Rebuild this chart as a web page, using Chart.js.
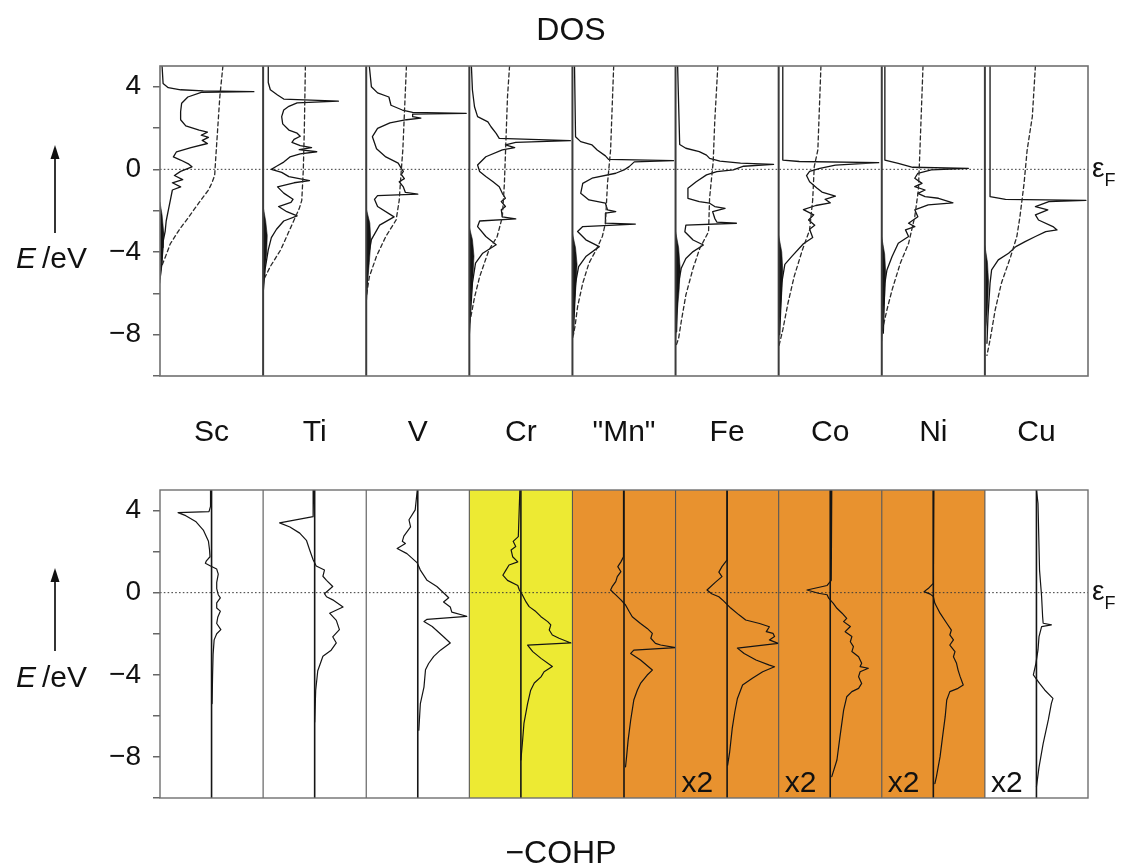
<!DOCTYPE html>
<html><head><meta charset="utf-8">
<script src="https://cdn.jsdelivr.net/npm/chart.js@4.4.1/dist/chart.umd.min.js"></script>
<style>
html,body{margin:0;padding:0;background:#fff;}
body{width:1125px;height:867px;position:relative;overflow:hidden;font-family:"Liberation Sans",Arial,Helvetica,sans-serif;color:#111;}
.t{position:absolute;line-height:1;white-space:nowrap;}
canvas{position:absolute;left:0;}
</style></head><body>
<canvas id="dos" width="1125" height="460" style="top:0"></canvas>
<canvas id="cohp" width="1125" height="407" style="top:460px"></canvas>
<svg style="position:absolute;left:0;top:0;pointer-events:none" width="1125" height="867">
  <line x1="55" y1="233" x2="55" y2="156" stroke="#111" stroke-width="1.7"/>
  <polygon points="55,145 50.5,159 59.5,159" fill="#111"/>
  <line x1="55" y1="651" x2="55" y2="579" stroke="#111" stroke-width="1.7"/>
  <polygon points="55,568 50.5,582 59.5,582" fill="#111"/>
</svg>
<div class="t" style="left:471px;width:200px;text-align:center;top:13px;font-size:32px">DOS</div>
<div class="t" style="left:461px;width:200px;text-align:center;top:836px;font-size:32px">&minus;COHP</div>
<div class="t" style="left:16px;top:243px;font-size:30px"><i>E</i>&thinsp;/eV</div>
<div class="t" style="left:16px;top:662px;font-size:30px"><i>E</i>&thinsp;/eV</div>
<div class="t" style="left:1092px;top:154px;font-size:28px">&epsilon;<span style="font-size:18px;position:relative;top:9px">F</span></div>
<div class="t" style="left:1092px;top:577px;font-size:28px">&epsilon;<span style="font-size:18px;position:relative;top:9px">F</span></div>
<script>
const FONT = '"Liberation Sans", Arial, Helvetica, sans-serif';

// ---------- labels ----------
const elementNames = ['Sc', 'Ti', 'V', 'Cr', '"Mn"', 'Fe', 'Co', 'Ni', 'Cu'];
const energyTickLabels = [4, 0, -4, -8];
const cohpScaleNotes = ['', '', '', '', '', 'x2', 'x2', 'x2', 'x2'];

// ---------- DOS (solid), integrated DOS (dashed), filled s-part; pairs [E/eV, value] ----------
const dosSc = [[5.0,0.02],[4.15,0.03],[3.95,0.08],[3.85,0.2],[3.8,0.42],[3.76,0.91],[3.72,0.4],[3.5,0.27],[3.2,0.21],[2.8,0.2],[2.4,0.2],[2.1,0.25],[1.9,0.38],[1.8,0.46],[1.65,0.4],[1.55,0.47],[1.4,0.41],[1.25,0.46],[1.05,0.3],[0.85,0.16],[0.6,0.13],[0.45,0.2],[0.25,0.28],[0.12,0.31],[-0.1,0.2],[-0.3,0.14],[-0.5,0.22],[-0.65,0.12],[-0.85,0.2],[-1.0,0.12],[-1.5,0.1],[-2.0,0.08],[-2.5,0.06],[-3.0,0.05],[-3.5,0.03],[-4.5,0.02],[-5.3,0.0]];
const idosSc = [[5.0,0.61],[3.5,0.58],[2.0,0.56],[0.5,0.54],[-0.3,0.53],[-0.7,0.5],[-1.0,0.47],[-1.6,0.38],[-2.3,0.28],[-2.9,0.19],[-3.6,0.1],[-4.2,0.055],[-4.7,0.015],[-5.0,0.0]];
const sdosSc = [[-1.6,0],[-2.2,0.02],[-3.0,0.035],[-3.8,0.03],[-4.6,0.015],[-5.5,0]];

const dosTi = [[5.0,0.05],[4.2,0.05],[3.85,0.07],[3.6,0.14],[3.4,0.2],[3.3,0.73],[3.22,0.33],[3.05,0.25],[2.87,0.2],[2.55,0.18],[2.2,0.19],[1.9,0.25],[1.75,0.33],[1.6,0.36],[1.45,0.3],[1.3,0.28],[1.15,0.36],[1.05,0.47],[0.95,0.35],[0.85,0.52],[0.75,0.36],[0.6,0.26],[0.35,0.2],[0.15,0.13],[0.0,0.08],[-0.15,0.18],[-0.35,0.25],[-0.55,0.45],[-0.65,0.3],[-0.85,0.14],[-1.15,0.2],[-1.45,0.29],[-1.6,0.27],[-1.8,0.15],[-2.05,0.23],[-2.25,0.33],[-2.5,0.2],[-2.9,0.13],[-3.3,0.08],[-3.9,0.05],[-4.8,0.02],[-6.0,0.0]];
const idosTi = [[5.0,0.41],[2.0,0.4],[0.0,0.39],[-1.5,0.375],[-1.9,0.35],[-2.9,0.26],[-3.9,0.17],[-4.7,0.07],[-5.2,0.02],[-5.4,0.0]];
const sdosTi = [[-1.8,0],[-2.5,0.025],[-3.2,0.04],[-4.0,0.035],[-5.0,0.015],[-5.8,0]];

const dosV = [[5.0,0.03],[4.0,0.05],[3.7,0.11],[3.5,0.22],[3.1,0.24],[2.87,0.35],[2.76,0.45],[2.71,0.97],[2.67,0.45],[2.55,0.45],[2.48,0.53],[2.4,0.39],[2.25,0.23],[1.98,0.11],[1.58,0.06],[1.0,0.1],[0.6,0.19],[0.3,0.31],[0.05,0.34],[-0.1,0.36],[-0.25,0.34],[-0.45,0.37],[-0.6,0.32],[-0.85,0.36],[-1.12,0.38],[-1.2,0.5],[-1.27,0.11],[-1.45,0.08],[-1.8,0.11],[-2.3,0.27],[-2.7,0.13],[-3.4,0.05],[-4.2,0.02],[-5.5,0.01],[-6.5,0.0]];
const idosV = [[5.0,0.39],[0.94,0.355],[-0.05,0.34],[-1.5,0.32],[-2.45,0.29],[-3.25,0.19],[-4.2,0.1],[-5.2,0.03],[-6.2,0.0]];
const sdosV = [[-1.9,0],[-2.6,0.035],[-3.5,0.045],[-4.5,0.03],[-5.5,0.012],[-6.3,0]];

const dosCr = [[5.0,0.02],[3.84,0.03],[3.03,0.05],[2.55,0.08],[2.3,0.18],[2.06,0.21],[1.74,0.26],[1.5,0.29],[1.39,0.98],[1.3,0.45],[1.18,0.35],[1.05,0.44],[0.94,0.32],[0.61,0.16],[0.21,0.08],[-0.11,0.1],[-0.35,0.16],[-0.6,0.23],[-0.84,0.29],[-1.16,0.32],[-1.4,0.35],[-1.56,0.31],[-1.8,0.35],[-1.96,0.31],[-2.3,0.32],[-2.4,0.45],[-2.5,0.1],[-2.77,0.08],[-3.25,0.16],[-3.65,0.26],[-4.06,0.13],[-4.54,0.06],[-5.5,0.03],[-7.1,0.01],[-8.0,0.0]];
const idosCr = [[5.0,0.39],[3.5,0.37],[1.4,0.355],[-0.68,0.34],[-2.3,0.32],[-3.25,0.27],[-3.9,0.19],[-5.2,0.1],[-6.2,0.05],[-7.0,0.02],[-7.5,0.0]];
const sdosCr = [[-2.8,0],[-3.4,0.03],[-4.2,0.045],[-5.2,0.035],[-6.4,0.015],[-7.6,0]];

const dosMn = [[5.0,0.02],[1.58,0.03],[1.34,0.08],[1.18,0.19],[0.94,0.24],[0.65,0.32],[0.48,0.35],[0.42,0.98],[0.36,0.6],[0.13,0.55],[-0.03,0.5],[-0.19,0.42],[-0.43,0.19],[-0.68,0.1],[-1.16,0.08],[-1.48,0.16],[-1.64,0.32],[-1.96,0.34],[-2.05,0.42],[-2.12,0.32],[-2.6,0.32],[-2.65,0.61],[-2.77,0.1],[-3.01,0.05],[-3.41,0.13],[-3.74,0.26],[-4.22,0.13],[-4.71,0.06],[-5.51,0.03],[-8.0,0.01]];
const idosMn = [[5.0,0.4],[0.94,0.37],[-0.68,0.34],[-2.6,0.32],[-3.25,0.29],[-3.9,0.23],[-4.54,0.16],[-5.51,0.1],[-6.64,0.05],[-7.6,0.025],[-8.2,0.0]];
const sdosMn = [[-3.1,0],[-3.8,0.03],[-4.6,0.045],[-5.6,0.035],[-6.8,0.015],[-8.0,0]];

const dosFe = [[5.0,0.02],[1.2,0.04],[1.02,0.1],[0.86,0.23],[0.69,0.3],[0.53,0.33],[0.4,0.43],[0.3,0.63],[0.24,0.95],[0.15,0.66],[0.05,0.6],[-0.03,0.56],[-0.11,0.4],[-0.27,0.3],[-0.6,0.2],[-0.92,0.12],[-1.4,0.12],[-1.56,0.23],[-1.64,0.33],[-1.8,0.38],[-1.89,0.48],[-2.05,0.36],[-2.37,0.38],[-2.55,0.4],[-2.61,0.59],[-2.7,0.1],[-3.02,0.09],[-3.42,0.17],[-3.66,0.27],[-3.98,0.17],[-4.31,0.1],[-4.79,0.055],[-5.76,0.02],[-7.86,0.01]];
const idosFe = [[5.0,0.41],[2.31,0.38],[0.37,0.365],[-1.4,0.33],[-3.02,0.32],[-3.82,0.235],[-4.79,0.17],[-6.08,0.1],[-7.37,0.055],[-8.17,0.03],[-8.6,0.0]];
const sdosFe = [[-3.0,0],[-3.8,0.03],[-4.8,0.045],[-5.8,0.035],[-7.0,0.015],[-8.3,0]];

const dosCo = [[5.0,0.04],[0.45,0.04],[0.38,0.2],[0.32,0.97],[0.2,0.55],[0.05,0.4],[-0.1,0.3],[-0.3,0.27],[-0.6,0.3],[-0.9,0.37],[-1.1,0.42],[-1.3,0.55],[-1.45,0.45],[-1.62,0.5],[-1.75,0.36],[-1.95,0.24],[-2.2,0.34],[-2.45,0.29],[-2.7,0.35],[-2.9,0.3],[-3.3,0.33],[-3.6,0.24],[-4.2,0.13],[-4.6,0.06],[-5.5,0.03],[-8.0,0.01]];
const idosCo = [[5.0,0.41],[0.94,0.38],[0.13,0.345],[-1.48,0.33],[-2.93,0.3],[-3.9,0.23],[-5.19,0.15],[-6.48,0.09],[-7.77,0.04],[-8.6,0.0]];
const sdosCo = [[-3.2,0],[-4.0,0.03],[-4.9,0.04],[-6.0,0.03],[-7.2,0.012],[-8.4,0]];

const dosNi = [[5.0,0.03],[0.45,0.03],[0.29,0.16],[0.1,0.3],[0.05,0.84],[-0.03,0.48],[-0.19,0.35],[-0.43,0.32],[-0.68,0.39],[-0.84,0.32],[-1.0,0.42],[-1.16,0.35],[-1.32,0.42],[-1.4,0.55],[-1.62,0.69],[-1.72,0.45],[-1.96,0.32],[-2.29,0.35],[-2.61,0.26],[-2.77,0.32],[-2.93,0.23],[-3.25,0.26],[-3.58,0.16],[-4.22,0.1],[-4.87,0.05],[-5.51,0.03],[-7.93,0.015]];
const idosNi = [[5.0,0.4],[0.94,0.37],[-1.0,0.355],[-2.29,0.32],[-3.58,0.26],[-4.54,0.18],[-5.83,0.1],[-6.8,0.05],[-7.9,0.0]];
const sdosNi = [[-3.3,0],[-4.1,0.028],[-5.0,0.038],[-6.1,0.028],[-7.2,0.012],[-8.3,0]];

const dosCu = [[5.0,0.05],[-1.32,0.05],[-1.45,0.2],[-1.5,0.98],[-1.56,0.62],[-1.8,0.49],[-1.96,0.61],[-2.2,0.49],[-2.45,0.52],[-2.77,0.66],[-2.93,0.7],[-3.01,0.59],[-3.25,0.49],[-3.5,0.39],[-3.74,0.3],[-4.06,0.23],[-4.38,0.13],[-4.87,0.065],[-5.51,0.05],[-7.12,0.03],[-8.42,0.02]];
const idosCu = [[5.0,0.49],[2.55,0.46],[0.94,0.41],[-0.68,0.38],[-2.29,0.34],[-3.25,0.31],[-4.22,0.25],[-5.51,0.16],[-6.8,0.1],[-8.26,0.05],[-9.0,0.02]];
const sdosCu = [[-3.7,0],[-4.5,0.025],[-5.4,0.035],[-6.5,0.028],[-7.6,0.012],[-8.5,0]];

// ---------- -COHP; pairs [E/eV, -COHP] ----------
const cohpSc = [[5.0,-0.02],[4.2,-0.02],[3.95,-0.05],[3.9,-0.65],[3.75,-0.5],[3.45,-0.3],[3.05,-0.16],[2.5,-0.06],[2.1,-0.04],[1.75,-0.03],[1.55,-0.1],[1.43,-0.12],[1.3,-0.02],[1.15,0.1],[0.9,0.13],[0.5,0.1],[0.2,0.1],[-0.1,0.13],[-0.25,0.17],[-0.5,0.1],[-0.75,0.1],[-0.9,0.17],[-1.2,0.12],[-1.5,0.1],[-1.8,0.18],[-2.0,0.1],[-2.3,0.05],[-3.0,0.03],[-4.0,0.02],[-5.4,0.01]];
const cohpTi = [[5.0,-0.02],[3.7,-0.03],[3.4,-0.68],[3.2,-0.48],[2.9,-0.29],[2.55,-0.16],[2.1,-0.1],[1.6,-0.03],[1.3,0.03],[1.1,0.19],[0.8,0.16],[0.6,0.23],[0.3,0.35],[-0.05,0.19],[-0.2,0.23],[-0.35,0.35],[-0.7,0.55],[-1.0,0.29],[-1.35,0.42],[-1.8,0.48],[-2.15,0.35],[-2.45,0.42],[-2.8,0.32],[-3.1,0.16],[-3.8,0.06],[-4.75,0.02],[-6.3,0.0]];
const cohpV = [[5.0,-0.01],[4.03,-0.05],[3.55,-0.17],[3.2,-0.14],[2.75,-0.27],[2.5,-0.3],[2.4,-0.24],[2.15,-0.4],[1.9,-0.21],[1.45,-0.01],[1.1,0.05],[0.6,0.18],[0.3,0.37],[-0.1,0.54],[-0.25,0.6],[-0.45,0.5],[-0.7,0.63],[-0.95,0.66],[-1.15,0.95],[-1.3,0.18],[-1.4,0.12],[-1.65,0.28],[-2.15,0.5],[-2.45,0.63],[-2.8,0.44],[-3.1,0.31],[-3.45,0.21],[-3.75,0.15],[-4.6,0.12],[-5.4,0.05],[-6.7,0.02]];
const cohpCr = [[5.0,-0.02],[2.73,-0.05],[2.5,-0.15],[2.25,-0.1],[2.08,-0.19],[1.75,-0.16],[1.5,-0.06],[1.35,-0.23],[1.1,-0.29],[0.85,-0.35],[0.6,-0.26],[0.35,-0.06],[0.13,-0.03],[-0.11,0.03],[-0.45,0.1],[-0.68,0.16],[-0.92,0.29],[-1.17,0.39],[-1.41,0.52],[-1.57,0.58],[-1.82,0.55],[-2.06,0.61],[-2.22,0.74],[-2.45,0.97],[-2.55,0.13],[-2.87,0.23],[-3.2,0.39],[-3.6,0.61],[-3.85,0.45],[-4.1,0.39],[-4.4,0.26],[-4.75,0.19],[-5.4,0.13],[-6.35,0.06],[-7.3,0.03],[-8.15,0.0]];
const cohpMn = [[5.0,-0.01],[1.75,-0.01],[1.5,-0.06],[1.27,-0.12],[1.02,-0.06],[0.78,-0.13],[0.54,-0.16],[0.29,-0.23],[0.13,-0.26],[-0.11,-0.16],[-0.35,-0.06],[-0.6,0.03],[-0.92,0.1],[-1.17,0.16],[-1.5,0.32],[-1.74,0.45],[-1.98,0.55],[-2.22,0.52],[-2.47,0.61],[-2.55,0.71],[-2.68,1.0],[-2.8,0.19],[-2.96,0.13],[-3.28,0.32],[-3.77,0.55],[-4.01,0.45],[-4.42,0.32],[-4.74,0.26],[-5.23,0.19],[-6.2,0.13],[-7.18,0.08],[-7.99,0.05],[-8.48,0.03]];
const cohpFe = [[5.0,0.0],[1.6,0.0],[1.27,-0.1],[1.0,-0.16],[0.78,-0.1],[0.5,-0.23],[0.13,-0.39],[-0.05,-0.3],[-0.2,-0.16],[-0.4,-0.07],[-0.75,0.07],[-1.08,0.23],[-1.33,0.36],[-1.5,0.63],[-1.66,0.82],[-1.9,0.76],[-1.98,0.89],[-2.14,0.92],[-2.3,0.82],[-2.47,0.99],[-2.7,0.2],[-2.96,0.33],[-3.28,0.56],[-3.53,0.82],[-3.61,0.92],[-3.85,0.69],[-4.17,0.49],[-4.5,0.3],[-5.15,0.2],[-5.8,0.15],[-6.6,0.1],[-7.75,0.05],[-8.4,0.01]];
const cohpCo = [[5.0,0.03],[0.6,0.02],[0.35,-0.06],[0.13,-0.45],[-0.03,-0.23],[-0.1,-0.06],[-0.27,-0.03],[-0.52,0.06],[-0.76,0.13],[-1.0,0.23],[-1.25,0.32],[-1.41,0.26],[-1.65,0.39],[-1.9,0.29],[-2.14,0.42],[-2.39,0.39],[-2.63,0.45],[-2.87,0.42],[-3.12,0.55],[-3.44,0.61],[-3.6,0.58],[-3.68,0.74],[-3.85,0.58],[-4.09,0.55],[-4.42,0.61],[-4.66,0.55],[-4.82,0.42],[-5.07,0.32],[-5.72,0.26],[-7.0,0.19],[-8.15,0.13],[-8.96,0.03]];
const cohpNi = [[5.0,0.01],[0.45,0.0],[0.2,-0.1],[0.05,-0.18],[-0.07,-0.06],[-0.19,0.0],[-0.52,0.03],[-1.0,0.13],[-1.49,0.26],[-1.82,0.35],[-2.06,0.32],[-2.3,0.39],[-2.55,0.32],[-2.87,0.42],[-3.12,0.39],[-3.44,0.45],[-3.77,0.48],[-4.09,0.52],[-4.5,0.58],[-4.66,0.48],[-4.82,0.32],[-5.23,0.26],[-6.04,0.23],[-7.0,0.18],[-8.0,0.13],[-8.96,0.06],[-9.3,0.03]];
const cohpCu = [[5.0,0.0],[4.35,0.03],[1.1,0.06],[-0.19,0.1],[-1.17,0.12],[-1.49,0.13],[-1.57,0.29],[-1.65,0.1],[-2.14,0.05],[-2.79,0.03],[-3.44,-0.01],[-4.0,-0.06],[-4.42,0.06],[-4.74,0.16],[-5.15,0.32],[-5.39,0.29],[-6.2,0.23],[-7.35,0.13],[-8.5,0.05],[-9.45,0.0]];

const dosCurves  = [dosSc, dosTi, dosV, dosCr, dosMn, dosFe, dosCo, dosNi, dosCu];
const idosCurves = [idosSc, idosTi, idosV, idosCr, idosMn, idosFe, idosCo, idosNi, idosCu];
const sdosCurves = [sdosSc, sdosTi, sdosV, sdosCr, sdosMn, sdosFe, sdosCo, sdosNi, sdosCu];
const cohpCurves = [cohpSc, cohpTi, cohpV, cohpCr, cohpMn, cohpFe, cohpCo, cohpNi, cohpCu];

// ---------- styles ----------
const YELLOW = '#EDEA33', ORANGE = '#E8922F';
const cohpPanelFill = [null, null, null, YELLOW, ORANGE, ORANGE, ORANGE, ORANGE, null];
const INK = '#141414';

const toXY = arr => arr.map(p => ({x: p[1], y: p[0]}));

function energyScale() {
  return {
    type: 'linear', position: 'left', min: -10, max: 5,
    afterFit: s => { s.width = 160; },
    border: {display: false},
    grid: {drawOnChartArea: false, drawTicks: true, tickLength: 7, color: '#666', lineWidth: 1.5},
    ticks: {
      stepSize: 2, includeBounds: false, autoSkip: false, padding: 12, color: '#111',
      font: {family: FONT, size: 28},
      callback: v => {
        const r = Math.round(v);
        if (Math.abs(v - r) > 1e-6 || !energyTickLabels.includes(r)) return '';
        return r < 0 ? '\u2212' + Math.abs(r) : String(r);
      }
    }
  };
}

function panelScales(min, max, withTitles, height) {
  const s = {};
  elementNames.forEach((name, i) => {
    s['x' + i] = {
      type: 'linear', axis: 'x', position: 'bottom', stack: 'panels', stackWeight: 1, weight: i,
      min, max, offset: false,
      grid: {display: false}, border: {display: false}, ticks: {display: false},
      title: {display: withTitles, text: name, color: '#111',
              font: {family: FONT, size: 30}, padding: {top: 0, bottom: 5}},
      afterFit: sc => { sc.height = height; }
    };
  });
  return s;
}

function makeDecor(id, cfg) {
  return {
    id,
    beforeDatasetsDraw(chart) {
      const {ctx, chartArea: a} = chart;
      const panels = elementNames.map((_, i) => chart.scales['x' + i]);
      ctx.save();
      if (cfg.fills) panels.forEach((s, i) => {
        if (cfg.fills[i]) { ctx.fillStyle = cfg.fills[i]; ctx.fillRect(s.left, a.top, s.right - s.left, a.bottom - a.top); }
      });
      const y0 = chart.scales.y.getPixelForValue(0);
      ctx.strokeStyle = '#3a3a3a'; ctx.lineWidth = 1; ctx.setLineDash([1.6, 2.2]);
      ctx.beginPath(); ctx.moveTo(a.left, y0); ctx.lineTo(a.right, y0); ctx.stroke();
      ctx.setLineDash([]);
      if (cfg.zeroLines) {
        ctx.strokeStyle = '#151515'; ctx.lineWidth = 1.6;
        panels.forEach(s => {
          const x = s.getPixelForValue(0);
          ctx.beginPath(); ctx.moveTo(x, a.top); ctx.lineTo(x, a.bottom); ctx.stroke();
        });
      }
      ctx.restore();
    },
    afterDatasetsDraw(chart) {
      const {ctx, chartArea: a} = chart;
      const panels = elementNames.map((_, i) => chart.scales['x' + i]);
      ctx.save();
      ctx.strokeStyle = cfg.dividerColor; ctx.lineWidth = cfg.dividerWidth;
      panels.slice(0, -1).forEach(s => {
        ctx.beginPath(); ctx.moveTo(s.right, a.top); ctx.lineTo(s.right, a.bottom); ctx.stroke();
      });
      ctx.strokeStyle = cfg.frameColor; ctx.lineWidth = cfg.frameWidth;
      ctx.strokeRect(a.left, a.top, a.right - a.left, a.bottom - a.top);
      if (cfg.notes) {
        ctx.fillStyle = '#111'; ctx.font = '30px ' + FONT;
        ctx.textAlign = 'left'; ctx.textBaseline = 'alphabetic';
        panels.forEach((s, i) => { if (cfg.notes[i]) ctx.fillText(cfg.notes[i], s.left + 6, a.bottom - 6); });
      }
      ctx.restore();
    }
  };
}

const common = {
  responsive: false, animation: false, events: [], indexAxis: 'y',
  elements: {point: {radius: 0, hoverRadius: 0}, line: {tension: 0, borderJoinStyle: 'round', borderCapStyle: 'round'}},
  plugins: {legend: {display: false}, tooltip: {enabled: false}, title: {display: false}}
};

// ---------- DOS chart ----------
const dosSets = [];
elementNames.forEach((n, i) => {
  const ax = 'x' + i;
  dosSets.push({data: toXY(sdosCurves[i]), xAxisID: ax, yAxisID: 'y', borderColor: INK, backgroundColor: INK, borderWidth: 0.6, fill: 'origin'});
  dosSets.push({data: toXY(idosCurves[i]), xAxisID: ax, yAxisID: 'y', borderColor: '#2a2a2a', borderWidth: 1.3, borderDash: [4, 3], fill: false});
  dosSets.push({data: toXY(dosCurves[i]), xAxisID: ax, yAxisID: 'y', borderColor: INK, borderWidth: 1.3, fill: false});
});

new Chart(document.getElementById('dos'), {
  type: 'line',
  data: {datasets: dosSets},
  options: Object.assign({}, common, {
    layout: {padding: {top: 66, right: 37, bottom: 4, left: 0}},
    scales: Object.assign({y: energyScale()}, panelScales(0, 1, true, 80))
  }),
  plugins: [makeDecor('dosDecor', {fills: null, zeroLines: false, dividerColor: '#3c3c3c', dividerWidth: 2, frameColor: '#707070', frameWidth: 1.6, notes: null})]
});

// ---------- -COHP chart ----------
const cohpSets = elementNames.map((n, i) => ({
  data: toXY(cohpCurves[i]), xAxisID: 'x' + i, yAxisID: 'y', borderColor: INK, borderWidth: 1.2, fill: false
}));

new Chart(document.getElementById('cohp'), {
  type: 'line',
  data: {datasets: cohpSets},
  options: Object.assign({}, common, {
    layout: {padding: {top: 30, right: 37, bottom: 69, left: 0}},
    scales: Object.assign({y: energyScale()}, panelScales(-1, 1, false, 0))
  }),
  plugins: [makeDecor('cohpDecor', {fills: cohpPanelFill, zeroLines: true, dividerColor: '#555', dividerWidth: 1.1, frameColor: '#707070', frameWidth: 1.4, notes: cohpScaleNotes})]
});
</script>
</body></html>
